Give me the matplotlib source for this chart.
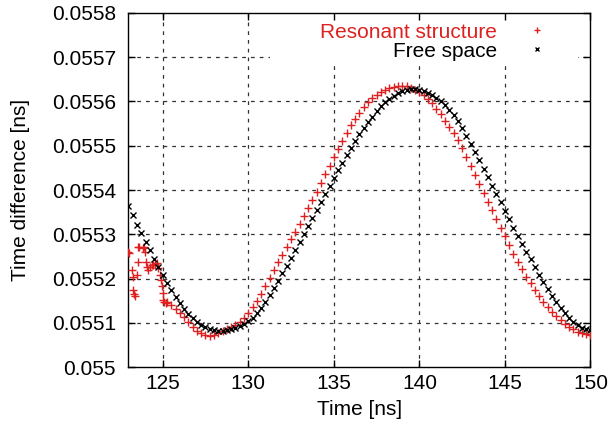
import numpy as np
import matplotlib
matplotlib.use("Agg")
import matplotlib.pyplot as plt
from matplotlib.patches import Rectangle

plt.rcParams['font.family'] = ['Liberation Sans', 'DejaVu Sans']

# ---- data (values in micro-ns above 0.055 ns) ----
free_time = np.arange(123.0, 150.001, 0.25)
free_offset = [
    363, 343, 322, 302, 283, 264, 245, 226, 207, 190, 174, 159, 145, 132, 120, 110,
    102, 95, 90, 86, 83.5, 82, 82, 83, 85, 88, 92, 97, 103, 111, 121, 133,
    147, 162, 178, 195, 212, 229, 247, 265, 283, 301, 319, 337, 355, 373, 391, 409,
    427, 445, 462, 479, 495, 511, 526, 540, 553, 566, 578, 589, 598, 606, 613, 619,
    623, 626, 628, 628, 627, 624, 620, 615, 609, 601, 592, 581, 569, 555, 539, 522,
    504, 486, 467, 448, 429, 410, 391, 372, 353, 334, 315, 297, 279, 261, 243, 226,
    209, 192, 176, 161, 147, 134, 122, 111, 102, 95, 89, 86, 84,
]

res_early_time = [123.00, 123.02, 123.19, 123.25, 123.28, 123.33, 123.38, 123.48,
                  123.55, 123.57, 123.62, 123.86, 123.92, 123.97, 124.00, 124.10,
                  124.16, 124.26, 124.36, 124.45, 124.55, 124.65, 124.74, 124.84,
                  124.88, 124.94, 125.00, 125.04, 125.10, 125.18]
res_early_offset = [261, 258, 220, 203, 174, 165, 161, 208, 237, 272, 272, 268, 272,
                    261, 238, 226, 220, 227, 230, 231, 233, 235, 223, 208, 197, 182,
                    167, 152, 147, 145]
res_time = np.arange(125.25, 150.001, 0.25)
res_offset = [
    146, 139, 132, 122, 112, 101, 90, 82, 76, 72, 69, 72, 76, 81, 86, 91,
    96, 101, 110, 121, 135, 150, 166, 184, 202, 220, 237, 254, 271, 289, 306, 324,
    342, 360, 378, 396, 416, 436, 455, 474, 493, 511, 529, 546, 561, 575, 588, 598,
    607, 615, 621, 626, 630, 633, 635, 635, 634, 631, 627, 622, 614, 605, 596, 584,
    571, 557, 543, 528, 512, 494, 475, 455, 435, 414, 394, 374, 354, 334, 314, 295,
    275, 256, 238, 221, 204, 189, 175, 161, 148, 136, 125, 115, 106, 98, 91, 85,
    80, 77, 74, 73,
]

x_ticks = [125, 130, 135, 140, 145, 150]
y_ticks = [0.055, 0.0551, 0.0552, 0.0553, 0.0554, 0.0555, 0.0556, 0.0557, 0.0558]
y_tick_labels = ["0.055", "0.0551", "0.0552", "0.0553", "0.0554", "0.0555",
                 "0.0556", "0.0557", "0.0558"]

base = 0.055
scale = 1e-6
res_t = list(res_early_time) + list(res_time)
res_v = [base + v * scale for v in list(res_early_offset) + list(res_offset)]
free_v = [base + v * scale for v in free_offset]

FS = 15
fig = plt.figure(figsize=(6.09, 4.33), dpi=100)
ax = fig.add_axes([0.211, 0.1524, 0.7586, 0.8176])

red = '#dd2020'
ax.plot(res_t, res_v, linestyle='none', marker='+', color=red, markersize=5.5,
        markeredgewidth=1.0, label='Resonant structure', zorder=3)
ax.plot(free_time, free_v, linestyle='none', marker='x', color='black', markersize=4.8,
        markeredgewidth=1.0, label='Free space', zorder=4)

ax.set_xlim(123, 150)
ax.set_ylim(0.055, 0.0558)
ax.set_xticks(x_ticks)
ax.set_yticks(y_ticks)
ax.set_yticklabels(y_tick_labels)
ax.set_axisbelow(False)
ax.tick_params(direction='in', length=5, width=1, top=True, right=True,
               labelsize=FS, colors='black')
ax.tick_params(axis='y', pad=9)
ax.tick_params(axis='x', pad=5)

# dashed grid drawn under the data
grid_kw = dict(color='#333333', linestyle=(0, (3, 4)), linewidth=0.9, zorder=1)
for t in x_ticks[:-1]:
    ax.axvline(t, **grid_kw)
for t in y_ticks[1:-1]:
    ax.axhline(t, **grid_kw)

# white key area (covers grid like the original key box)
ax.add_patch(Rectangle((0.306, 0.85), 0.667, 0.15, transform=ax.transAxes,
                       facecolor='white', edgecolor='none', zorder=2))

for s in ax.spines.values():
    s.set_linewidth(1.0)
    s.set_color('black')

ax.set_xlabel('Time [ns]', fontsize=FS, labelpad=5)
ax.set_ylabel('Time difference [ns]', fontsize=FS, labelpad=16)

leg = ax.legend(loc='upper right', bbox_to_anchor=(0.9067, 0.973), markerfirst=False,
                fontsize=FS, frameon=False, handlelength=1.0, handletextpad=1.42,
                labelspacing=0.0, borderpad=0.0, borderaxespad=0.0, markerscale=0.7)
for txt, col in zip(leg.get_texts(), [red, 'black']):
    txt.set_color(col)
leg.set_zorder(5)

fig.savefig('out.png', dpi=100)
